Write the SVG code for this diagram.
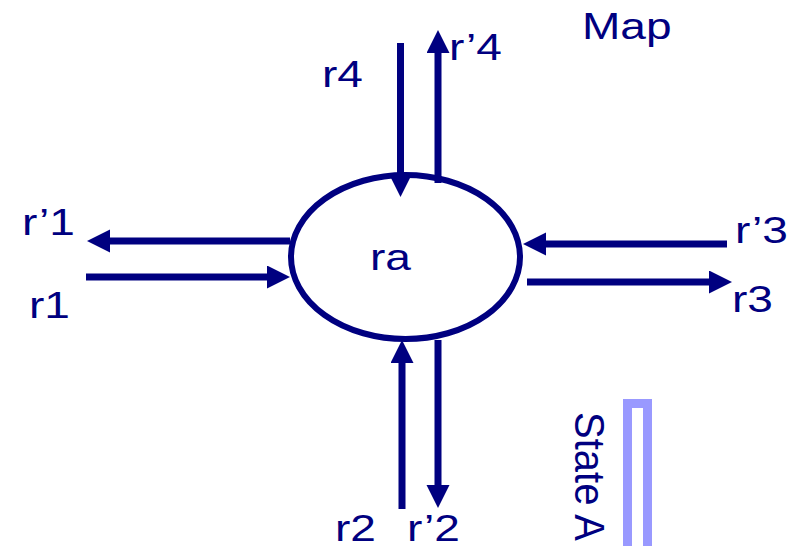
<svg xmlns="http://www.w3.org/2000/svg" width="787" height="546" viewBox="0 0 787 546">
<style>
.t{font-family:"Liberation Sans",Arial,sans-serif;font-size:36px;fill:#000080}
.c{stroke:#000080;stroke-width:7;fill:none;marker-end:url(#ah)}
</style>
<defs>
<marker id="ah" markerUnits="userSpaceOnUse" markerWidth="24" markerHeight="24" refX="0" refY="11.5" orient="auto" viewBox="0 0 24 24">
<path d="M0,0 L23,11.5 L0,23 z" fill="#000080"/>
</marker>
</defs>
<rect width="787" height="546" fill="#ffffff"/>
<g id="title"><text class="t" transform="matrix(1.28,0,0,1,582,39)">Map</text></g>
<g id="ra">
<ellipse cx="405.5" cy="257" rx="114.5" ry="82" fill="none" stroke="#000080" stroke-width="6"/>
<text class="t" transform="matrix(1.28,0,0,1,370,270)">ra</text>
</g>
<g id="connectors">
<path class="c" d="M400.5,43 V174"/>
<path class="c" d="M438,183 V53"/>
<path class="c" d="M290,241 H110"/>
<path class="c" d="M86,277 H267"/>
<path class="c" d="M727,244 H546"/>
<path class="c" d="M527,282 H709"/>
<path class="c" d="M402,509 V363"/>
<path class="c" d="M438,340 V485"/>
</g>
<g id="labels">
<text class="t" transform="matrix(1.28,0,0,1,322,87)">r4</text>
<text class="t" transform="matrix(1.28,0,0,1,449,60)">r’4</text>
<text class="t" transform="matrix(1.28,0,0,1,22,235)">r’1</text>
<text class="t" transform="matrix(1.28,0,0,1,29,318)">r1</text>
<text class="t" transform="matrix(1.28,0,0,1,735,243)">r’3</text>
<text class="t" transform="matrix(1.28,0,0,1,732,312)">r3</text>
<text class="t" transform="matrix(1.28,0,0,1,335,541)">r2</text>
<text class="t" transform="matrix(1.28,0,0,1,407,541)">r’2</text>
</g>
<g id="stateA">
<text class="t" transform="matrix(0,1,-1.05,0,575,412)" style="font-size:40px">State A</text>
<rect x="627.5" y="403.5" width="20" height="200" fill="none" stroke="#9999ff" stroke-width="9"/>
</g>
</svg>
